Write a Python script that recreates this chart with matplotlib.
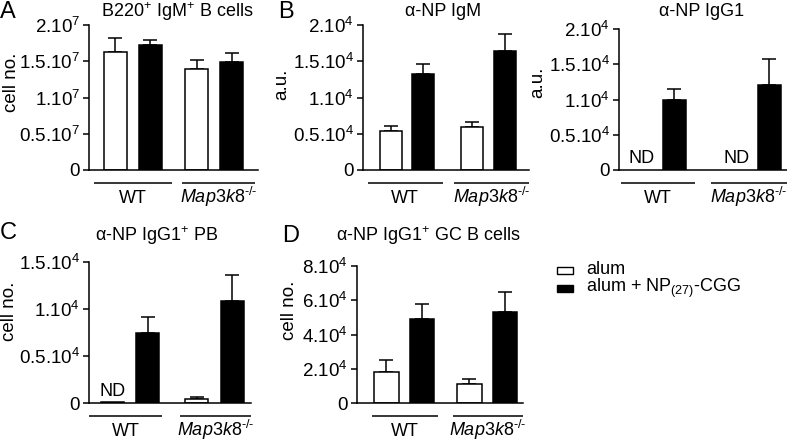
import matplotlib
matplotlib.use("Agg")
import matplotlib.pyplot as plt
from matplotlib.patches import Rectangle
import numpy as np

plt.rcParams['font.family'] = ['Liberation Sans', 'DejaVu Sans']
plt.rcParams['mathtext.fontset'] = 'custom'
plt.rcParams['mathtext.rm'] = 'Liberation Sans'
plt.rcParams['mathtext.it'] = 'Liberation Sans:italic'
plt.rcParams['mathtext.bf'] = 'Liberation Sans:bold'
plt.rcParams['mathtext.sf'] = 'Liberation Sans'

# ---------------- data ----------------
groups = ['WT', '$\\mathit{Map3k8}^{\\mathrm{\u2010/\u2010}}$']
conditions = ['alum', r'alum + NP$_{\mathrm{(27)}}$-CGG']
# order of bars: WT alum, WT NP-CGG, Map3k8 alum, Map3k8 NP-CGG
b220_mean = [1.63e7, 1.72e7, 1.39e7, 1.49e7]
b220_err = [0.19e7, 0.07e7, 0.13e7, 0.12e7]
igm_mean = [0.54e4, 1.32e4, 0.59e4, 1.64e4]
igm_err = [0.07e4, 0.14e4, 0.07e4, 0.23e4]
igg1_mean = [0.0, 0.99e4, 0.0, 1.20e4]
igg1_err = [0.0, 0.16e4, 0.0, 0.37e4]
igg1_nd = [True, False, True, False]
pb_mean = [0.01e4, 0.74e4, 0.043e4, 1.08e4]
pb_err = [0.0, 0.17e4, 0.021e4, 0.28e4]
pb_nd = [True, False, False, False]
gc_mean = [1.82e4, 4.88e4, 1.12e4, 5.29e4]
gc_err = [0.71e4, 0.88e4, 0.29e4, 1.18e4]

ticks_e7 = [0, 0.5e7, 1e7, 1.5e7, 2e7]
ticklabels_e7 = ['0', r'0.5.10$^{7}$', r'1.10$^{7}$', r'1.5.10$^{7}$', r'2.10$^{7}$']
ticks_e4 = [0, 0.5e4, 1e4, 1.5e4, 2e4]
ticklabels_e4 = ['0', r'0.5.10$^{4}$', r'1.10$^{4}$', r'1.5.10$^{4}$', r'2.10$^{4}$']
ticks_pb = [0, 0.5e4, 1e4, 1.5e4]
ticklabels_pb = ['0', r'0.5.10$^{4}$', r'1.10$^{4}$', r'1.5.10$^{4}$']
ticks_gc = [0, 2e4, 4e4, 6e4, 8e4]
ticklabels_gc = ['0', r'2.10$^{4}$', r'4.10$^{4}$', r'6.10$^{4}$', r'8.10$^{4}$']

# ---------------- layout ----------------
W, H = 787, 442
fig = plt.figure(figsize=(W / 100, H / 100), dpi=100)
FS = 13
TFS = 13.5
LW = 1.1

panels = [
    dict(rect=(89, 258, 25, 170), gap=1.33, bw=0.66, xl=(-0.76, 4.09),
         mean=b220_mean, err=b220_err, nd=None, ticks=ticks_e7, tl=ticklabels_e7,
         ylabel='cell no.', ylpos=(12, 82), title=r'B220$^{+}$ IgM$^{+}$ B cells',
         tx=0.52, ty=17, letter='A', lpos=(0, 18),
         lines=[(0.03, 0.49), (0.55, 0.98)]),
    dict(rect=(363, 529, 25, 170), gap=1.51, bw=0.68, xl=(-0.85, 4.26),
         mean=igm_mean, err=igm_err, nd=None, ticks=ticks_e4, tl=ticklabels_e4,
         ylabel='a.u.', ylpos=(282, 84), title='α-NP IgM',
         tx=0.48, ty=16, letter='B', lpos=(278, 18),
         lines=[(0.03, 0.48), (0.55, 1.0)]),
    dict(rect=(619, 787, 29, 170), gap=1.92, bw=0.70, xl=(-0.71, 4.47),
         mean=igg1_mean, err=igg1_err, nd=igg1_nd, ticks=ticks_e4, tl=ticklabels_e4,
         ylabel='a.u.', ylpos=(538, 82), title='α-NP IgG1',
         tx=0.49, ty=16, letter=None, lpos=None,
         lines=[(0.01, 0.45), (0.55, 1.0)]),
    dict(rect=(89, 251, 262, 403), gap=1.38, bw=0.65, xl=(-0.65, 3.90),
         mean=pb_mean, err=pb_err, nd=pb_nd, ticks=ticks_pb, tl=ticklabels_pb,
         ylabel='cell no.', ylpos=(10, 311), title=r'α-NP IgG1$^{+}$ PB',
         tx=0.42, ty=241, letter='C', lpos=(0, 239),
         lines=[(0.0, 0.45), (0.56, 1.0)]),
    dict(rect=(357, 523, 266, 403), gap=1.31, bw=0.67, xl=(-0.82, 3.80),
         mean=gc_mean, err=gc_err, nd=None, ticks=ticks_gc, tl=ticklabels_gc,
         ylabel='cell no.', ylpos=(290, 310), title=r'α-NP IgG1$^{+}$ GC B cells',
         tx=0.43, ty=241, letter='D', lpos=(282, 242),
         lines=[(0.09, 0.49), (0.58, 1.0)]),
]

for p in panels:
    l, r, t, b = p['rect']
    ax = fig.add_axes([l / W, 1 - b / H, (r - l) / W, (b - t) / H])
    hpx = b - t
    g = p['gap']
    x = np.array([0, 1, 1 + g, 2 + g])
    colors = ['white', 'black', 'white', 'black']
    mean = np.array(p['mean'])
    err = np.array(p['err'])
    for i in range(4):
        if mean[i] > 0:
            ax.bar(x[i], mean[i], width=p['bw'], color=colors[i], edgecolor='black',
                   linewidth=LW, zorder=2)
            if err[i] > 0:
                ax.errorbar(x[i], mean[i], yerr=[[0], [err[i]]], fmt='none', ecolor='black',
                            elinewidth=LW, capsize=4.7, capthick=LW, zorder=1, clip_on=False)
    if p['nd'] is not None:
        for i in range(4):
            if p['nd'][i]:
                ax.annotate('ND', (x[i], 0), xytext=(0, 2), textcoords='offset points',
                            ha='center', va='bottom', fontsize=FS)
    ax.set_xlim(*p['xl'])
    ax.set_ylim(0, p['ticks'][-1])
    ax.set_xticks([])
    ax.set_yticks(p['ticks'])
    ax.set_yticklabels(p['tl'], fontsize=TFS)
    ax.tick_params(axis='y', direction='out', length=4.5, width=LW, pad=2)
    for s in ['top', 'right']:
        ax.spines[s].set_visible(False)
    for s in ['left', 'bottom']:
        ax.spines[s].set_linewidth(LW)
    # group lines and labels
    yl = -13 / hpx
    for (f0, f1), gname in zip(p['lines'], groups):
        ax.plot([f0, f1], [yl, yl], color='black', lw=LW, transform=ax.transAxes,
                clip_on=False, solid_capstyle='butt')
        fig.text((l + (f0 + f1) / 2 * (r - l)) / W, 1 - (b + 33) / H, gname,
                 ha='center', va='baseline', fontsize=FS)
    # title
    fig.text((l + p['tx'] * (r - l)) / W, 1 - p['ty'] / H, p['title'], ha='center',
             va='baseline', fontsize=FS)
    # y label
    fig.text(p['ylpos'][0] / W, 1 - p['ylpos'][1] / H, p['ylabel'], rotation=90,
             ha='center', va='center', fontsize=TFS)
    if p['letter']:
        fig.text(p['lpos'][0] / W, 1 - p['lpos'][1] / H, p['letter'], ha='left',
                 va='baseline', fontsize=17)

# legend (manual)
leg_rows = [(267, 274, 274), (285, 292, 292)]
for (y0, y1, base), cond, col in zip(leg_rows, conditions, ['white', 'black']):
    fig.add_artist(Rectangle((557 / W, 1 - y1 / H), 16 / W, (y1 - y0) / H,
                             transform=fig.transFigure, facecolor=col,
                             edgecolor='black', linewidth=1.0))
    fig.text(586 / W, 1 - base / H, cond, ha='left', va='baseline', fontsize=FS)

fig.savefig('out.png', dpi=100)
